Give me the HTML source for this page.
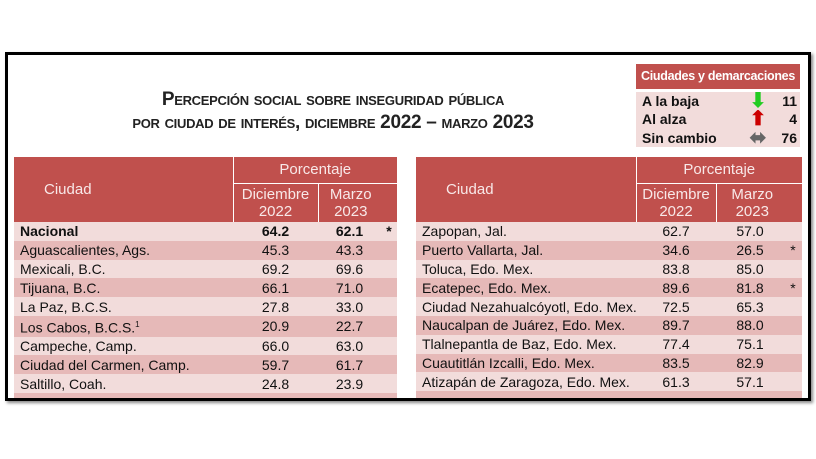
<!DOCTYPE html>
<html><head><meta charset="utf-8"><style>
*{margin:0;padding:0;box-sizing:border-box}
body{width:816px;height:459px;background:#fff;position:relative;overflow:hidden;font-family:"Liberation Sans",sans-serif}
#frame{position:absolute;left:5px;top:52px;width:806px;height:349px;border:3px solid #000;box-shadow:2px 2px 3px #888;overflow:hidden;background:#fff}
.t{position:absolute;left:0;width:650px;text-align:center;font-weight:bold;font-size:19px;color:#222;font-variant:small-caps;letter-spacing:-0.3px}
table{position:absolute;border-collapse:collapse;font-size:14px;color:#111;table-layout:fixed}
td{height:18.8px;padding:0 0 0 6px;white-space:nowrap;line-height:18px;overflow:hidden}
td.n{text-align:center;padding:0}
.h td{background:#c0504d;color:#f8e8e8;text-align:center;font-size:15px;padding:0}
.a td{background:#f2dcdb}.b td{background:#e6b9b8}
.bd{border-left:1px solid #fff}
</style></head><body>
<div id="frame">
<div class="t" style="top:34px">Percepción social sobre inseguridad pública</div>
<div class="t" style="top:57px">por ciudad de interés, diciembre 2022 – marzo 2023</div>

<table style="left:628px;top:9px;width:164px;font-weight:bold;font-size:14px">
<col style="width:100px"><col style="width:38px"><col style="width:26px">
<tr><td colspan="3" style="background:#c0504d;color:#fff;height:26px;text-align:center;padding:0;font-size:12.5px;letter-spacing:-0.3px">Ciudades y demarcaciones</td></tr>
<tr style="background:#f2dcdb"><td style="border-top:3px solid #fff">A la baja</td><td style="border-top:3px solid #fff;text-align:center;color:#2c2;font-size:20px">⬇</td><td style="border-top:3px solid #fff;text-align:right;padding-right:3px">11</td></tr>
<tr style="background:#f2dcdb"><td>Al alza</td><td style="text-align:center;color:#c00;font-size:20px">⬆</td><td style="text-align:right;padding-right:3px">4</td></tr>
<tr style="background:#f2dcdb"><td>Sin cambio</td><td style="text-align:center;color:#666;font-size:20px">⬌</td><td style="text-align:right;padding-right:3px">76</td></tr>
</table>

<table style="left:6px;top:102px;width:383px">
<col style="width:219px"><col style="width:85px"><col style="width:63px"><col style="width:16px">
<tr class="h"><td rowspan="2" style="text-align:left;padding-left:30px;font-size:15px">Ciudad</td><td colspan="3" class="bd" style="height:26px;font-size:15px;border-bottom:1px solid #fff">Porcentaje</td></tr>
<tr class="h"><td class="bd" style="height:39px;line-height:17px">Diciembre<br>2022</td><td colspan="2" class="bd" style="line-height:17px;padding-right:14px">Marzo<br>2023</td></tr>
<tr class="a" style="font-weight:bold"><td>Nacional</td><td class="n">64.2</td><td class="n">62.1</td><td class="n">*</td></tr>
<tr class="b"><td>Aguascalientes, Ags.</td><td class="n">45.3</td><td class="n">43.3</td><td></td></tr>
<tr class="a"><td>Mexicali, B.C.</td><td class="n">69.2</td><td class="n">69.6</td><td></td></tr>
<tr class="b"><td>Tijuana, B.C.</td><td class="n">66.1</td><td class="n">71.0</td><td></td></tr>
<tr class="a"><td>La Paz, B.C.S.</td><td class="n">27.8</td><td class="n">33.0</td><td></td></tr>
<tr class="b"><td>Los Cabos, B.C.S.<sup style="font-size:8px">1</sup></td><td class="n">20.9</td><td class="n">22.7</td><td></td></tr>
<tr class="a"><td>Campeche, Camp.</td><td class="n">66.0</td><td class="n">63.0</td><td></td></tr>
<tr class="b"><td>Ciudad del Carmen, Camp.</td><td class="n">59.7</td><td class="n">61.7</td><td></td></tr>
<tr class="a"><td>Saltillo, Coah.</td><td class="n">24.8</td><td class="n">23.9</td><td></td></tr>
<tr class="b"><td>&nbsp;</td><td></td><td></td><td></td></tr>
</table>

<table style="left:408px;top:102px;width:386px">
<col style="width:220px"><col style="width:80px"><col style="width:68px"><col style="width:18px">
<tr class="h"><td rowspan="2" style="text-align:left;padding-left:30px;font-size:15px">Ciudad</td><td colspan="3" class="bd" style="height:26px;font-size:15px;border-bottom:1px solid #fff">Porcentaje</td></tr>
<tr class="h"><td class="bd" style="height:39px;line-height:17px">Diciembre<br>2022</td><td colspan="2" class="bd" style="line-height:17px;padding-right:14px">Marzo<br>2023</td></tr>
<tr class="a"><td>Zapopan, Jal.</td><td class="n">62.7</td><td class="n">57.0</td><td></td></tr>
<tr class="b"><td>Puerto Vallarta, Jal.</td><td class="n">34.6</td><td class="n">26.5</td><td class="n">*</td></tr>
<tr class="a"><td>Toluca, Edo. Mex.</td><td class="n">83.8</td><td class="n">85.0</td><td></td></tr>
<tr class="b"><td>Ecatepec, Edo. Mex.</td><td class="n">89.6</td><td class="n">81.8</td><td class="n">*</td></tr>
<tr class="a"><td>Ciudad Nezahualcóyotl, Edo. Mex.</td><td class="n">72.5</td><td class="n">65.3</td><td></td></tr>
<tr class="b"><td>Naucalpan de Juárez, Edo. Mex.</td><td class="n">89.7</td><td class="n">88.0</td><td></td></tr>
<tr class="a"><td>Tlalnepantla de Baz, Edo. Mex.</td><td class="n">77.4</td><td class="n">75.1</td><td></td></tr>
<tr class="b"><td>Cuautitlán Izcalli, Edo. Mex.</td><td class="n">83.5</td><td class="n">82.9</td><td></td></tr>
<tr class="a"><td>Atizapán de Zaragoza, Edo. Mex.</td><td class="n">61.3</td><td class="n">57.1</td><td></td></tr>
<tr class="b"><td>&nbsp;</td><td></td><td></td><td></td></tr>
</table>
</div>
</body></html>
